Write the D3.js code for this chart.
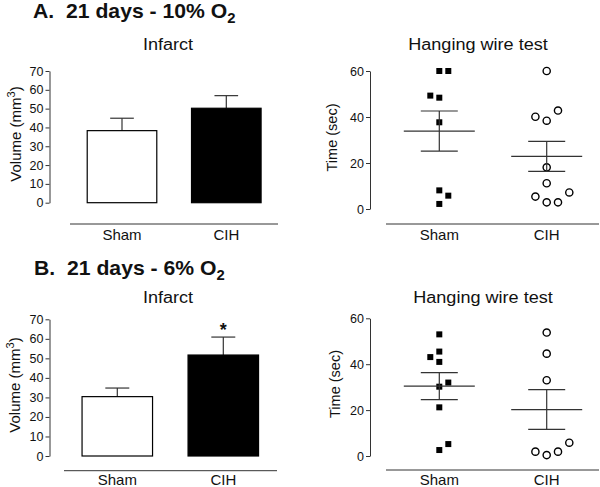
<!DOCTYPE html>
<html><head><meta charset="utf-8">
<script src="https://cdn.jsdelivr.net/npm/d3@7"></script>
<style>
html,body{margin:0;padding:0;background:#fff;}
svg{display:block;font-family:"Liberation Sans",Arial,sans-serif;}
</style></head>
<body>
<script>
// ---------- DATA ----------
const categories = ["Sham", "CIH"];
const volumeTicks = [0, 10, 20, 30, 40, 50, 60, 70];
const timeTicks = [0, 20, 40, 60];

// Infarct volume (mm^3): mean and SEM
const infarctA = [38.3, 50.2];
const infarctSemA = [6.6, 6.7];
const infarctB = [30.4, 51.7];
const infarctSemB = [4.4, 9.2];

// Hanging wire test (sec): individual points, with column slot (dodge index)
const wireAShamVals = [60, 60, 49.3, 48.4, 37.7, 8.1, 5.8, 2.2];
const wireAShamSlots = [0, 1, -1, 0, 0, 0, 1, 0];
const wireACihVals = [60, 40.1, 38.4, 42.8, 18.1, 11.2, 5.4, 2.9, 2.9, 7.2];
const wireACihSlots = [0, -1, 0, 1, 0, 0, -1, 0, 1, 2];
const wireBShamVals = [53, 45.5, 43.1, 41, 32, 30.2, 21.2, 5.2, 2.6];
const wireBShamSlots = [0, 0, -1, 0, 1, 0, 0, 1, 0];
const wireBCihVals = [53.8, 44.6, 33, 5.8, 1.9, 0.4, 1.9];
const wireBCihSlots = [0, 0, 0, 2, -1, 0, 1];

// Means and SEM for hanging wire test
const wireAMean = [33.9, 22.9];
const wireASem = [8.7, 6.5];
const wireBMean = [30.45, 20.25];
const wireBSem = [5.85, 8.65];

// ---------- DRAW ----------
const W = 600, H = 487;
const svg = d3.select("body").append("svg").attr("width", W).attr("height", H);
const ink = "#111";
const lineCol = "#333";

function panelTitle(x, y, letter, text, sub) {
  const t = svg.append("text").attr("transform", `translate(${x},${y}) scale(1.06,1)`)
    .attr("font-size", 20).attr("font-weight", "bold").attr("fill", ink)
    .attr("xml:space", "preserve");
  t.append("tspan").text(letter + "  " + text);
  t.append("tspan").attr("dy", 5).attr("font-size", 14).text(sub);
}

function subTitle(x, y, text) {
  svg.append("text").attr("transform", `translate(${x},${y}) scale(1.13,1)`)
    .attr("text-anchor", "middle").attr("font-size", 16).attr("fill", ink).text(text);
}

function yAxis(x, y, ticks) {
  const g = svg.append("g").attr("transform", `translate(${x},0)`)
    .call(d3.axisLeft(y).tickValues(ticks).tickSize(4).tickSizeOuter(0).tickPadding(2));
  g.select(".domain").attr("stroke", lineCol).attr("stroke-width", 1);
  g.selectAll(".tick line").attr("stroke", lineCol);
  g.selectAll(".tick text").attr("font-size", 12.5).attr("fill", ink)
    .attr("font-family", "Liberation Sans, Arial, sans-serif");
  return g;
}

function xBase(x0, x1, yLine, xScale, labelY) {
  svg.append("line").attr("x1", x0).attr("x2", x1).attr("y1", yLine).attr("y2", yLine)
    .attr("stroke", lineCol).attr("stroke-width", 1);
  svg.append("g").selectAll("text").data(categories).join("text")
    .attr("x", d => xScale(d)).attr("y", labelY).attr("text-anchor", "middle")
    .attr("font-size", 15).attr("fill", ink).text(d => d);
}

function yLabel(x, yc, parts, size) {
  const t = svg.append("text").attr("transform", `translate(${x},${yc}) rotate(-90)`)
    .attr("text-anchor", "middle").attr("font-size", size).attr("fill", ink);
  parts.forEach(p => {
    const s = t.append("tspan").text(p.t);
    if (p.sup) s.attr("dy", -6).attr("font-size", 11);
    if (p.after) s.attr("dy", 6);
  });
}

function barPanel(cfg) {
  const y = d3.scaleLinear().domain([0, 70]).range(cfg.yRange);
  const x = d3.scalePoint().domain(categories).range(cfg.xRange);
  const bw = cfg.barFrac * x.step();
  yAxis(cfg.axisX, y, volumeTicks);
  const g = svg.append("g");
  categories.forEach((c, i) => {
    const cx = x(c), v = cfg.vals[i], e = cfg.sems[i];
    g.append("line").attr("x1", cx).attr("x2", cx).attr("y1", y(v)).attr("y2", y(v + e))
      .attr("stroke", lineCol).attr("stroke-width", 1.2);
    g.append("line").attr("x1", cx - bw * 0.17).attr("x2", cx + bw * 0.17)
      .attr("y1", y(v + e)).attr("y2", y(v + e)).attr("stroke", lineCol).attr("stroke-width", 1.2);
    g.append("rect").attr("x", cx - bw / 2).attr("y", y(v)).attr("width", bw)
      .attr("height", y(0) - y(v))
      .attr("fill", i === 0 ? "#fff" : "#000").attr("stroke", "#000").attr("stroke-width", 1.2);
  });
  if (cfg.star) {
    const i = cfg.star;
    svg.append("text").attr("x", x(categories[i])).attr("y", y(cfg.vals[i] + cfg.sems[i]) - 1)
      .attr("text-anchor", "middle").attr("font-size", 18).attr("font-weight", "bold")
      .attr("fill", ink).text("*");
  }
  xBase(cfg.baseX[0], cfg.baseX[1], cfg.baseY, x, cfg.labelY);
}

function dotPanel(cfg) {
  const y = d3.scaleLinear().domain([0, 60]).range(cfg.yRange);
  const x = d3.scalePoint().domain(categories).range(cfg.xRange);
  yAxis(cfg.axisX, y, timeTicks);
  const g = svg.append("g");
  const sham = cfg.shamVals.map((v, i) => ({ v, s: cfg.shamSlots[i] }));
  const cih = cfg.cihVals.map((v, i) => ({ v, s: cfg.cihSlots[i] }));
  const sq = 6;
  g.selectAll("rect.pt").data(sham).join("rect").attr("class", "pt")
    .attr("x", d => x("Sham") + d.s * 9 - sq / 2).attr("y", d => y(d.v) - sq / 2)
    .attr("width", sq).attr("height", sq).attr("fill", "#000");
  g.selectAll("circle.pt").data(cih).join("circle").attr("class", "pt")
    .attr("cx", d => x("CIH") + d.s * 11.3).attr("cy", d => y(d.v)).attr("r", 3.6)
    .attr("fill", "#fff").attr("stroke", "#000").attr("stroke-width", 1.4);
  categories.forEach((c, i) => {
    const cx = x(c), m = cfg.mean[i], e = cfg.sem[i];
    g.append("line").attr("x1", cx - 35.5).attr("x2", cx + 35.5).attr("y1", y(m)).attr("y2", y(m))
      .attr("stroke", lineCol).attr("stroke-width", 1.2);
    g.append("line").attr("x1", cx).attr("x2", cx).attr("y1", y(m - e)).attr("y2", y(m + e))
      .attr("stroke", lineCol).attr("stroke-width", 1.2);
    [m - e, m + e].forEach(vv => {
      g.append("line").attr("x1", cx - 18.5).attr("x2", cx + 18.5).attr("y1", y(vv)).attr("y2", y(vv))
        .attr("stroke", lineCol).attr("stroke-width", 1.2);
    });
  });
  xBase(cfg.baseX[0], cfg.baseX[1], cfg.baseY, x, cfg.labelY);
}

// ---- Panel A ----
panelTitle(33, 17.5, "A.", "21 days - 10% O", "2");
subTitle(168, 50, "Infarct");
subTitle(478, 50, "Hanging wire test");
yLabel(21, 134, [{ t: "Volume (mm" }, { t: "3", sup: true }, { t: ")", after: true }], 15);
yLabel(337, 137.5, [{ t: "Time (sec)" }], 14.5);

barPanel({
  yRange: [202.7, 71], xRange: [122, 226.3], barFrac: 0.667, axisX: 49.5,
  vals: infarctA, sems: infarctSemA, baseX: [70, 278], baseY: 224, labelY: 239.5
});
dotPanel({
  yRange: [209, 71], xRange: [439.3, 546.7], axisX: 370,
  shamVals: wireAShamVals, shamSlots: wireAShamSlots,
  cihVals: wireACihVals, cihSlots: wireACihSlots,
  mean: wireAMean, sem: wireASem, baseX: [386, 599], baseY: 224, labelY: 239.5
});

// ---- Panel B ----
panelTitle(34, 275, "B.", "21 days - 6% O", "2");
subTitle(168, 303, "Infarct");
subTitle(483, 303, "Hanging wire test");
yLabel(20, 385, [{ t: "Volume (mm" }, { t: "3", sup: true }, { t: ")", after: true }], 15);
yLabel(340, 384, [{ t: "Time (sec)" }], 14.5);

barPanel({
  yRange: [456, 319.3], xRange: [117.3, 223.3], barFrac: 0.665, axisX: 49.5,
  vals: infarctB, sems: infarctSemB, star: 1, baseX: [64, 277], baseY: 470.7, labelY: 485
});
dotPanel({
  yRange: [456, 318.3], xRange: [439.3, 546.7], axisX: 370,
  shamVals: wireBShamVals, shamSlots: wireBShamSlots,
  cihVals: wireBCihVals, cihSlots: wireBCihSlots,
  mean: wireBMean, sem: wireBSem, baseX: [386, 599], baseY: 470, labelY: 485
});
</script>
</body></html>
